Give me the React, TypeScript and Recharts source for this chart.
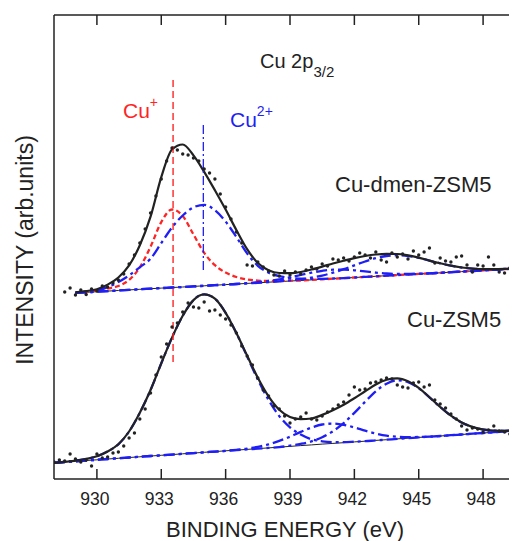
import { ComposedChart, Line, Scatter, XAxis, YAxis, ReferenceLine } from 'recharts';

// binding energy grid of the fitted curves (eV)
const curveEnergy = [
  928, 928.5, 929, 929.5, 930, 930.5, 931, 931.5, 932, 932.5, 933, 933.5, 934, 934.5, 935,
  935.5, 936, 936.5, 937, 937.5, 938, 938.5, 939, 939.5, 940, 940.5, 941, 941.5, 942, 942.5,
  943, 943.5, 944, 944.5, 945, 945.5, 946, 946.5, 947, 947.5, 948, 948.5, 949, 949.5, 950,
];

// Cu-ZSM5 (lower spectrum)
const lowerBaseline = [
  16.2, 17.0, 17.7, 18.5, 19.2, 20.0, 20.7, 21.5, 22.2, 23.0, 23.7, 24.4, 25.2, 25.9, 26.7,
  27.4, 28.2, 28.9, 29.6, 30.4, 31.1, 31.9, 32.6, 33.4, 34.1, 34.9, 35.6, 36.3, 37.1, 37.8,
  38.6, 39.3, 40.1, 40.8, 41.6, 42.3, 43.0, 43.8, 44.5, 45.3, 46.0, 46.8, 47.5, 48.3, 49.0,
];
const lowerFit = [
  16.2, 17.2, 18.3, 20.0, 22.7, 27.5, 34.7, 47.5, 66.2, 89.0, 115.7, 141.4, 163.2, 178.9, 184.7,
  180.4, 166.2, 145.9, 123.4, 101.2, 82.6, 69.2, 62.0, 59.8, 60.5, 64.1, 68.8, 74.3, 80.8, 87.7,
  94.5, 99.3, 100.7, 97.8, 91.1, 81.8, 72.0, 63.3, 56.6, 52.1, 49.5, 48.5, 48.2, 48.6, 49.1,
];
const lowerMain = [
  16.2, 17.2, 18.3, 20.0, 22.7, 27.5, 34.7, 47.5, 66.2, 89.0, 115.7, 141.4, 163.2, 178.9, 184.7,
  180.4, 166.2, 145.9, 122.6, 99.4, 79.1, 62.9, 51.6, 44.4, 39.7, 37.7, 36.9, 36.9, 37.3, 37.8,
  38.6, 39.3, 40.1, 40.8, 41.6, 42.3, 43.0, 43.8, 44.5, 45.3, 46.0, 46.8, 47.5, 48.3, 49.0,
];
const lowerSmall = [
  16.2, 17.0, 17.7, 18.5, 19.2, 20.0, 20.7, 21.5, 22.2, 23.0, 23.7, 24.4, 25.2, 25.9, 26.7,
  27.4, 28.2, 29.2, 30.4, 32.2, 34.6, 38.1, 42.3, 47.1, 51.4, 54.5, 55.4, 54.2, 51.6, 48.3,
  45.4, 43.3, 42.2, 41.8, 42.0, 42.3, 43.0, 43.8, 44.5, 45.3, 46.0, 46.8, 47.5, 48.3, 49.0,
];
const lowerSat = [
  16.2, 17.0, 17.7, 18.5, 19.2, 20.0, 20.7, 21.5, 22.2, 23.0, 23.7, 24.4, 25.2, 25.9, 26.7,
  27.4, 28.2, 28.9, 29.6, 30.4, 31.1, 31.9, 33.3, 35.1, 37.6, 41.7, 47.7, 55.8, 66.1, 77.2,
  87.7, 95.3, 98.6, 96.8, 90.7, 81.7, 72.0, 63.3, 56.6, 52.1, 49.5, 48.5, 48.2, 48.6, 49.1,
];

// Cu-dmen-ZSM5 (upper spectrum)
const upperBaseline = [
  null, null, 186.1, 186.7, 187.3, 187.9, 188.5, 189.1, 189.7, 190.3, 190.9, 191.5, 192.0, 192.6, 193.2,
  193.8, 194.4, 195.0, 195.6, 196.2, 196.8, 197.4, 198.0, 198.5, 199.1, 199.7, 200.3, 200.9, 201.5, 202.1,
  202.7, 203.3, 203.9, 204.5, 205.1, 205.6, 206.2, 206.8, 207.4, 208.0, 208.6, 209.2, 209.8, 210.4, 211.0,
];
const upperFit = [
  null, null, 186.7, 187.9, 189.8, 194.4, 201.5, 213.6, 233.7, 262.3, 301.9, 329.5, 334.5, 323.6, 307.2,
  288.8, 269.4, 249.0, 229.9, 216.0, 208.8, 206.0, 205.8, 207.0, 209.5, 212.4, 215.5, 218.3, 220.9, 223.0,
  224.5, 225.2, 225.0, 223.6, 221.4, 218.4, 215.7, 213.3, 211.5, 210.4, 209.9, 209.9, 210.1, 210.5, 211.0,
];
const upperCu1 = [
  null, null, 186.4, 187.3, 188.5, 190.4, 193.0, 199.1, 211.7, 232.3, 256.9, 269.5, 263.0, 244.6, 226.2,
  213.8, 206.4, 202.0, 199.6, 198.4, 198.0, 198.0, 198.3, 198.5, 199.1, 199.7, 200.3, 200.9, 201.5, 202.1,
  202.7, 203.3, 203.9, 204.5, 205.1, 205.6, 206.2, 206.8, 207.4, 208.0, 208.6, 209.2, 209.8, 210.4, 211.0,
];
const upperCu2 = [
  null, null, 186.4, 187.3, 188.6, 191.9, 197.0, 203.6, 211.7, 220.3, 235.9, 251.5, 263.5, 271.6, 274.2,
  268.8, 257.4, 242.0, 225.6, 213.2, 206.3, 202.9, 201.2, 200.3, 200.1, 200.2, 200.5, 200.9, 201.5, 202.1,
  202.7, 203.3, 203.9, 204.5, 205.1, 205.6, 206.2, 206.8, 207.4, 208.0, 208.6, 209.2, 209.8, 210.4, 211.0,
];
const upperSmall = [
  null, null, 186.1, 186.7, 187.3, 187.9, 188.5, 189.1, 189.7, 190.3, 190.9, 191.5, 192.0, 192.6, 193.2,
  193.8, 194.4, 195.0, 195.9, 196.8, 198.0, 199.6, 201.7, 204.0, 206.3, 208.2, 209.3, 209.4, 208.7, 207.6,
  206.4, 205.5, 205.1, 205.1, 205.4, 205.6, 206.2, 206.8, 207.4, 208.0, 208.6, 209.2, 209.8, 210.4, 211.0,
];
const upperSat = [
  null, null, 186.1, 186.7, 187.3, 187.9, 188.5, 189.1, 189.7, 190.3, 190.9, 191.5, 192.0, 192.6, 193.2,
  193.8, 194.4, 195.0, 195.6, 196.2, 196.8, 197.7, 198.6, 199.7, 201.3, 203.4, 206.3, 209.8, 213.7, 217.5,
  220.8, 223.0, 223.8, 223.0, 221.1, 218.4, 215.7, 213.3, 211.5, 210.4, 209.9, 209.9, 210.1, 210.5, 211.0,
];

// measured points
const dotEnergy = [
  928, 928.25, 928.5, 928.75, 929, 929.25, 929.5, 929.75, 930, 930.25, 930.5, 930.75,
  931, 931.25, 931.5, 931.75, 932, 932.25, 932.5, 932.75, 933, 933.25, 933.5, 933.75,
  934, 934.25, 934.5, 934.75, 935, 935.25, 935.5, 935.75, 936, 936.25, 936.5, 936.75,
  937, 937.25, 937.5, 937.75, 938, 938.25, 938.5, 938.75, 939, 939.25, 939.5, 939.75,
  940, 940.25, 940.5, 940.75, 941, 941.25, 941.5, 941.75, 942, 942.25, 942.5, 942.75,
  943, 943.25, 943.5, 943.75, 944, 944.25, 944.5, 944.75, 945, 945.25, 945.5, 945.75,
  946, 946.25, 946.5, 946.75, 947, 947.25, 947.5, 947.75, 948, 948.25, 948.5, 948.75,
  949, 949.25, 949.5, 949.75,
];
const lowerDots = [
  17, 19, 18, 25, 20, 17, 19, 13, 25, 21, 22, 26,
  27, 33, 41, 46, 60, 70, 86, 104, 122, 135, 152, 156,
  167, 176, 172, 171, 177, 168, 169, 164, 160, 154, 146, 133,
  123, 114, 101, 89, 83, 73, 70, 63, 56, 60, 62, 66,
  60, 59, 63, 67, 70, 74, 77, 84, 92, 89, 90, 96,
  97, 99, 101, 100, 94, 92, 91, 96, 97, 92, 94, 79,
  75, 71, 65, 60, 53, 49, 51, 50, 47, 49, 53, 48,
  47, 45, 56, 50,
];
const upperDots = [
  null, null, 187, 191, 184, 189, 184.5, 190, 188, 193, 192, 196,
  199, 205, 215, 224, 236, 250, 266, 283, 300, 318, 331, 329,
  325, 324, 321, 318, 310, 306, 300, 285, 272, 260, 247, 236,
  214, 213, 217, 212, 208, 204, 203, 208, 204, 207, 205, 209,
  212, 210, 215, 213, 220, 219, 221, 218, 222, 226, 224, 221,
  227, 219, 217, 226, 222, 225, 220, 228, 224, 227, 231, 216,
  221, 218, 217, 222, 223, 214, 207, 214, 213, 222, 214, 207,
  206, 211, 209, 207,
];

const xTicks = [930, 933, 936, 939, 942, 945, 948];

const FONT = '"Liberation Sans", Arial, sans-serif';
const INK = '#222';
const RED = '#ff2424';
const BLUE = '#1f1ff5';
const DASHDOT = '11 4 3 4';

const toPoints = (ys: (number | null)[]) =>
  curveEnergy.map((x, i) => ({ x, y: ys[i] })).filter((p) => p.y != null);
const toDots = (ys: (number | null)[]) =>
  dotEnergy.map((x, i) => ({ x, y: ys[i] })).filter((p) => p.y != null);

const Dot = (p: any) => <circle cx={p.cx} cy={p.cy} r={1.7} fill={INK} />;
const NoLabel = () => <g />;

const curve = (key: string, ys: (number | null)[], stroke: string, width: number, dash?: string) => (
  <Line
    key={key}
    data={toPoints(ys)}
    dataKey="y"
    type="monotone"
    stroke={stroke}
    strokeWidth={width}
    strokeDasharray={dash}
    dot={false}
    activeDot={false}
    isAnimationActive={false}
  />
);

export default function App() {
  return (
    <div style={{ position: 'relative', width: 509, height: 533, overflow: 'hidden' }}>
      <ComposedChart width={523} height={533} margin={{ top: 0, right: 5, bottom: 0, left: 45 }}>
        <XAxis
          dataKey="x"
          type="number"
          domain={[928, 950]}
          ticks={xTicks}
          allowDataOverflow
          height={62}
          tickSize={-10}
          tickMargin={24}
          axisLine={{ stroke: INK, strokeWidth: 1.5 }}
          tickLine={{ stroke: INK, strokeWidth: 1.5 }}
          tick={{ fill: INK, fontSize: 17.5, fontFamily: FONT, dx: -2 }}
        />
        <XAxis
          xAxisId="top"
          orientation="top"
          dataKey="x"
          type="number"
          domain={[928, 950]}
          ticks={xTicks}
          allowDataOverflow
          height={7}
          tickSize={-10}
          tick={NoLabel}
          axisLine={{ stroke: INK, strokeWidth: 1.5 }}
          tickLine={{ stroke: INK, strokeWidth: 1.5 }}
        />
        <YAxis
          type="number"
          domain={[0, 464]}
          allowDataOverflow
          width={1}
          tick={false}
          tickLine={false}
          axisLine={{ stroke: INK, strokeWidth: 1.5 }}
        />

        {curve('lb', lowerBaseline, INK, 1)}
        {curve('lm', lowerMain, BLUE, 2.3, DASHDOT)}
        {curve('ls', lowerSmall, BLUE, 2.3, DASHDOT)}
        {curve('lsat', lowerSat, BLUE, 2.3, DASHDOT)}
        {curve('lf', lowerFit, INK, 2.2)}

        {curve('ub', upperBaseline, INK, 1)}
        {curve('uc1', upperCu1, RED, 2.3, '5 3')}
        {curve('uc2', upperCu2, BLUE, 2.3, DASHDOT)}
        {curve('us', upperSmall, BLUE, 2.3, DASHDOT)}
        {curve('usat', upperSat, BLUE, 2.3, DASHDOT)}
        {curve('uf', upperFit, INK, 2.2)}

        <ReferenceLine
          segment={[{ x: 933.55, y: 117 }, { x: 933.55, y: 399 }]}
          stroke={RED}
          strokeWidth={1.4}
          strokeDasharray="7 4"
        />
        <ReferenceLine
          segment={[{ x: 934.96, y: 209 }, { x: 934.96, y: 356 }]}
          stroke={BLUE}
          strokeWidth={1.3}
          strokeDasharray="9 3 2 3"
        />

        <Scatter data={toDots(lowerDots)} dataKey="y" shape={Dot} isAnimationActive={false} />
        <Scatter data={toDots(upperDots)} dataKey="y" shape={Dot} isAnimationActive={false} />
      </ComposedChart>

      <svg
        width={509}
        height={533}
        style={{ position: 'absolute', left: 0, top: 0, pointerEvents: 'none' }}
        fontFamily={FONT}
      >
        <text x={252} y={60} fontSize={20} fill={INK}>
          Cu 2p<tspan fontSize={15} dy={9}>3/2</tspan>
        </text>
        <text x={115} y={110} fontSize={21} fill={RED}>
          Cu<tspan fontSize={14} dy={-11}>+</tspan>
        </text>
        <text x={222} y={119} fontSize={21} fill={BLUE}>
          Cu<tspan fontSize={14} dy={-11}>2+</tspan>
        </text>
        <text x={327} y={184} fontSize={22} fill={INK}>Cu-dmen-ZSM5</text>
        <text x={399} y={319} fontSize={22} fill={INK}>Cu-ZSM5</text>
        <text x={277} y={529} fontSize={22} textAnchor="middle" fill={INK}>
          BINDING ENERGY (eV)
        </text>
        <text transform="translate(25,242) rotate(-90)" fontSize={23} textAnchor="middle" fill={INK}>
          INTENSITY (arb.units)
        </text>
      </svg>
    </div>
  );
}
